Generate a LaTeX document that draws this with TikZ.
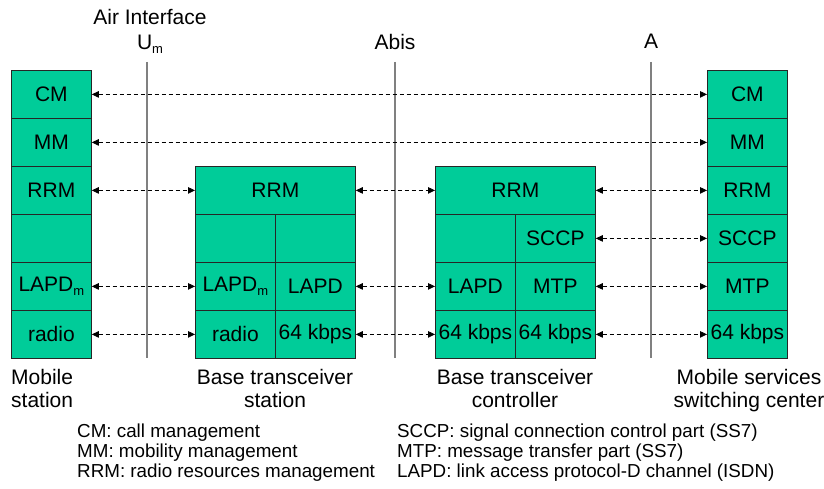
\documentclass[tikz,border=0pt]{standalone}
\usepackage{fontspec}
\setmainfont{Liberation Sans}
\usetikzlibrary{arrows.meta}
\definecolor{layergreen}{RGB}{0,204,153}
\definecolor{ifgray}{RGB}{128,128,128}
\newcommand{\lowidx}[1]{\raisebox{-0.35ex}{\fontsize{13}{13}\selectfont #1}}
\tikzset{
  layer/.style={draw=black!85,line width=0.8pt,fill=layergreen,minimum height=48pt,
    minimum width=80pt,inner sep=0pt,anchor=north west,font=\fontsize{21}{24}\selectfont},
  wide/.style={layer,minimum width=160pt},
  iface/.style={draw=ifgray,line width=1.6pt},
  peer/.style={line width=0.8pt,dash pattern=on 4pt off 3pt,
    {Triangle[length=7pt,width=6.5pt]}-{Triangle[length=7pt,width=6.5pt]}},
  lbl/.style={font=\fontsize{21}{23}\selectfont,inner sep=0pt},
  note/.style={font=\fontsize{18.8}{20}\selectfont,inner sep=0pt,anchor=base west}
}
\begin{document}
\begin{tikzpicture}[x=1pt,y=-1pt]
  \useasboundingbox (0,0) rectangle (824,489);
  % interfaces
  \foreach \n/\x in {um/147,abis/395,a/651}{
    \coordinate (\n-top) at (\x,62);
    \coordinate (\n-bot) at (\x,358);
    \draw[iface] (\n-top) -- (\n-bot);
  }
  \node[lbl,anchor=base] (air) at (150,25) {Air Interface};
  \node[lbl,anchor=base] (um) at (150,50) {U\lowidx{m}};
  \node[lbl,anchor=base] (abis) at (395,50) {Abis};
  \node[lbl,anchor=base] (a) at (651,49) {A};
  % mobile station
  \foreach \name/\txt [count=\i from 0] in {cm/CM,mm/MM,rrm/RRM,empty/,lapdm/LAPD\lowidx{m},radio/radio}
    \node[layer] (ms-\name) at (11,70+48*\i) {\txt};
  % msc
  \foreach \name/\txt [count=\i from 0] in {cm/CM,mm/MM,rrm/RRM,sccp/SCCP,mtp/MTP,kbps/64 kbps}
    \node[layer] (msc-\name) at (707,70+48*\i) {\txt};
  % bts
  \node[wide] (bts-rrm) at (195,166) {RRM};
  \foreach \name/\txt [count=\i] in {empty/,lapdm/LAPD\lowidx{m},radio/radio}
    \node[layer] (bts-\name) at (195,166+48*\i) {\txt};
  \foreach \name/\txt [count=\i] in {emptyr/,lapd/LAPD,kbps/64 kbps}
    \node[layer] (bts-\name) at (275,166+48*\i) {\txt};
  % bsc
  \node[wide] (bsc-rrm) at (435,166) {RRM};
  \foreach \name/\txt [count=\i] in {empty/,lapd/LAPD,kbpsl/64 kbps}
    \node[layer] (bsc-\name) at (435,166+48*\i) {\txt};
  \foreach \name/\txt [count=\i] in {sccp/SCCP,mtp/MTP,kbpsr/64 kbps}
    \node[layer] (bsc-\name) at (515,166+48*\i) {\txt};
  % peer protocols
  \draw[peer] (ms-cm) -- (msc-cm);
  \draw[peer] (ms-mm) -- (msc-mm);
  \draw[peer] (ms-rrm) -- (bts-rrm);
  \draw[peer] (bts-rrm) -- (bsc-rrm);
  \draw[peer] (bsc-rrm) -- (msc-rrm);
  \draw[peer] (bsc-sccp) -- (msc-sccp);
  \draw[peer] (ms-lapdm) -- (bts-lapdm);
  \draw[peer] (bts-lapd) -- (bsc-lapd);
  \draw[peer] (bsc-mtp) -- (msc-mtp);
  \draw[peer] (ms-radio) -- (bts-radio);
  \draw[peer] (bts-kbps) -- (bsc-kbpsl);
  \draw[peer] (bsc-kbpsr) -- (msc-kbps);
  % entity names
  \node[lbl,align=left,anchor=north west] (ms-name) at (11,369) {Mobile\\station};
  \node[lbl,align=center,anchor=north] (bts-name) at (275,369) {Base transceiver\\station};
  \node[lbl,align=center,anchor=north] (bsc-name) at (515,369) {Base transceiver\\controller};
  \node[lbl,align=center,anchor=north] (msc-name) at (749,369) {Mobile services\\switching center};
  % legend
  \node[note] (n-cm) at (77,437) {CM: call management};
  \node[note] (n-mm) at (77,457) {MM: mobility management};
  \node[note] (n-rrm) at (77,477) {RRM: radio resources management};
  \node[note] (n-sccp) at (397,437) {SCCP: signal connection control part (SS7)};
  \node[note] (n-mtp) at (397,457) {MTP: message transfer part (SS7)};
  \node[note] (n-lapd) at (397,477) {LAPD: link access protocol-D channel (ISDN)};
\end{tikzpicture}
\end{document}
